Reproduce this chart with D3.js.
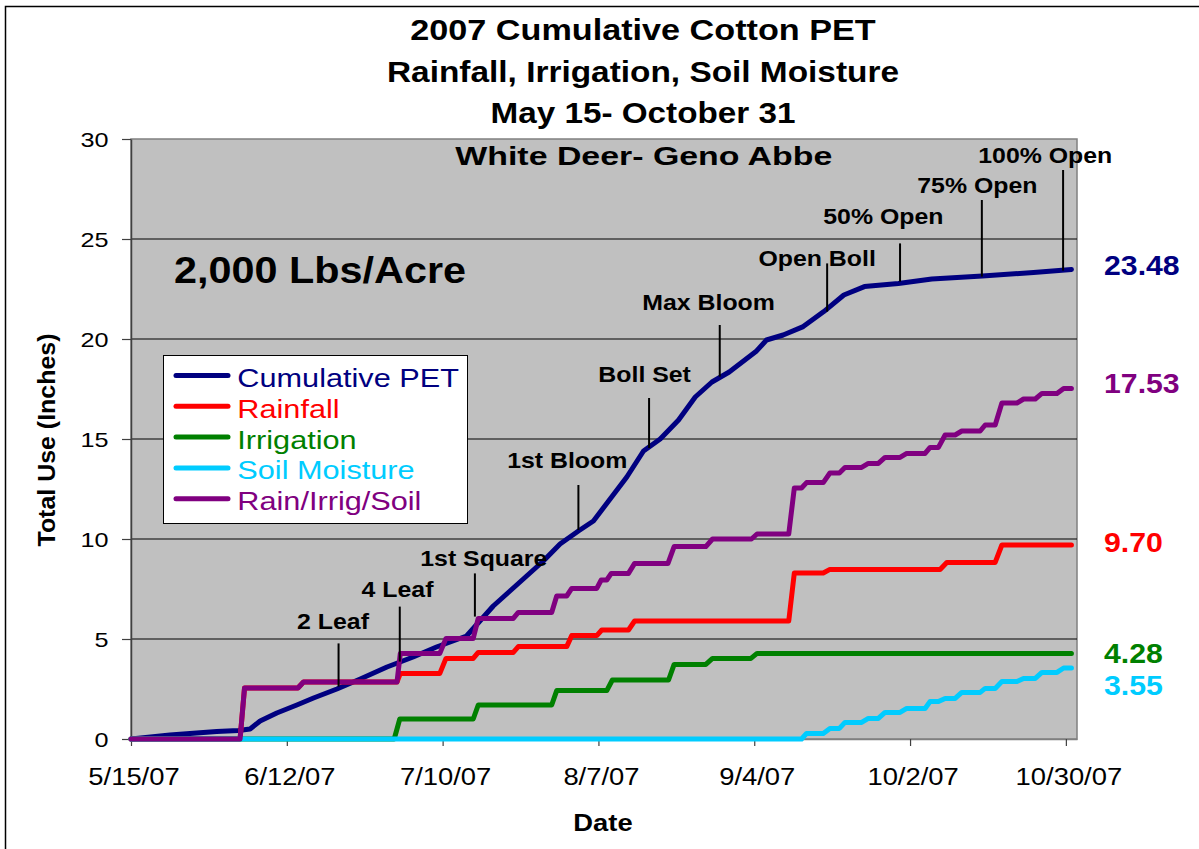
<!DOCTYPE html>
<html>
<head>
<meta charset="utf-8">
<script src="https://cdn.jsdelivr.net/npm/d3@7"></script>
<style>
html,body{margin:0;padding:0;background:#fff;}
svg{display:block;}
</style>
</head>
<body>
<svg id="chart" width="1199" height="849"></svg>
<script>
// ---------------- DATA (day offsets from 5/15/2007, inches) ----------------
const startDate = new Date(2007, 4, 15);
const tickDayOffsets = [0, 28, 56, 84, 112, 140, 168];
const yTickValues = [0, 5, 10, 15, 20, 25, 30];

const seriesNames = ["Cumulative PET", "Rainfall", "Irrigation", "Soil Moisture", "Rain/Irrig/Soil"];
const seriesColors = ["#000080", "#FF0000", "#008000", "#00CCFF", "#800080"];

const petPoints = [[0,0],[7,0.2],[11.8,0.3],[15.4,0.38],[19.3,0.42],[21.4,0.5],[23.2,0.9],[26.2,1.3],[29.8,1.7],[32.8,2.05],[37,2.5],[41.2,3.0],[46,3.6],[50.7,4.1],[54.9,4.6],[60.3,5.15],[62.7,5.9],[65.1,6.65],[68.1,7.4],[71.1,8.15],[74.1,8.9],[77.1,9.75],[80.4,10.4],[83.1,10.9],[86.1,12.0],[89.1,13.1],[92.1,14.4],[95.1,15.0],[98.4,15.95],[101.4,17.1],[104.4,17.85],[107.5,18.35],[112.3,19.37],[114.2,19.95],[117.2,20.2],[120.8,20.62],[124.5,21.37],[128.1,22.2],[131.8,22.62],[137.9,22.78],[143.9,23.0],[153,23.15],[162.2,23.33],[169,23.48]];

const rainPoints = [[0,0],[19.6,0],[20.4,2.55],[30,2.55],[31,2.85],[47.8,2.85],[48.4,3.28],[55.5,3.28],[56.6,4.03],[61.5,4.03],[62.4,4.33],[68.7,4.33],[69.6,4.62],[78.3,4.62],[79.2,5.17],[83.7,5.17],[84.6,5.45],[89.4,5.45],[90.5,5.9],[118.2,5.9],[119.2,8.3],[124.4,8.3],[125.6,8.48],[145.4,8.48],[146.6,8.83],[155.3,8.83],[156.5,9.7],[169,9.7]];

const irrigationPoints = [[0,0],[47.3,0],[48.3,1.0],[61.5,1.0],[62.4,1.7],[75.6,1.7],[76.5,2.42],[85.5,2.42],[86.5,2.95],[96.6,2.95],[97.6,3.73],[103.3,3.73],[104.5,4.03],[111.4,4.03],[112.5,4.28],[169,4.28]];

const soilPoints = [[0,0],[120.5,0],[121.4,0.28],[124.4,0.28],[125.6,0.53],[127.3,0.53],[128.3,0.83],[131.3,0.83],[132.5,1.03],[134.3,1.03],[135.5,1.33],[138.2,1.33],[139.4,1.53],[142.7,1.53],[143.6,1.87],[145.1,1.87],[146.3,2.03],[148.1,2.03],[149.3,2.33],[152.6,2.33],[153.5,2.53],[155.3,2.53],[156.5,2.87],[159.2,2.87],[160.4,3.03],[162.5,3.03],[163.7,3.33],[166.4,3.33],[167.6,3.55],[169,3.55]];

const totalPoints = [[0,0],[19.6,0],[20.4,2.55],[30,2.55],[31,2.85],[47.8,2.85],[48.4,4.28],[55.5,4.28],[56.6,5.03],[61.5,5.03],[62.4,6.03],[68.7,6.03],[69.6,6.33],[75.6,6.33],[76.5,7.15],[78.3,7.15],[79.2,7.53],[83.7,7.53],[84.5,7.95],[85.5,7.95],[86.3,8.28],[89.4,8.28],[90.5,8.78],[96.5,8.78],[97.6,9.62],[103.3,9.62],[104.5,10.0],[111.5,10.0],[112.5,10.25],[118.2,10.25],[119.2,12.55],[120.5,12.55],[121.4,12.82],[124.4,12.82],[125.6,13.3],[127.3,13.3],[128.3,13.58],[131.3,13.58],[132.5,13.78],[134.3,13.78],[135.5,14.08],[138.2,14.08],[139.4,14.28],[142.7,14.28],[143.6,14.58],[145.1,14.58],[146.3,15.2],[148.1,15.2],[149.3,15.4],[152.6,15.4],[153.5,15.7],[155.3,15.7],[156.5,16.8],[159.2,16.8],[160.4,17.0],[162.5,17.0],[163.7,17.28],[166.4,17.28],[167.6,17.53],[169,17.53]];

const finalLabels = ["23.48", "17.53", "9.70", "4.28", "3.55"];
const finalValues = [23.48, 17.53, 9.70, 4.28, 3.55];
const finalColors = ["#000080", "#800080", "#FF0000", "#008000", "#00CCFF"];

const stageNames = ["2 Leaf", "4 Leaf", "1st Square", "1st Bloom", "Boll Set", "Max Bloom", "Open Boll", "50% Open", "75% Open", "100% Open"];
const stageDays = [37.3, 48.3, 61.8, 80.4, 93.1, 105.8, 125.1, 138.2, 152.9, 167.5];
const stageTop = [4.78, 6.62, 8.28, 12.7, 17.05, 20.7, 23.78, 24.78, 26.95, 28.45];
const stageBottom = [2.62, 3.87, 6.12, 10.45, 14.55, 18.12, 21.37, 22.87, 23.12, 23.42];
const stageLabelDays = [36.3, 47.9, 63.4, 78.4, 92.3, 103.8, 123.3, 135.2, 152.1, 164.3];
const stageLabelValues = [5.5, 7.1, 8.67, 13.57, 17.87, 21.45, 23.65, 25.75, 27.28, 28.8];

const titleLines = ["2007 Cumulative Cotton PET", "Rainfall, Irrigation, Soil Moisture", "May 15- October 31"];
const subTitle = "White Deer- Geno Abbe";
const yieldText = "2,000 Lbs/Acre";

// ---------------- DRAWING ----------------
const FONT = "'Liberation Sans', Arial, Helvetica, sans-serif";
const svg = d3.select("#chart");
const dayToDate = d => new Date(startDate.getTime() + d * 86400000);

const plot = {left: 131, right: 1077, top: 139, bottom: 739};
const x = d3.scaleTime().domain([startDate, d3.timeDay.offset(startDate, 170)]).range([plot.left, plot.right]);
const y = d3.scaleLinear().domain([0, 30]).range([plot.bottom, plot.top]);

function txt(parent, str, o) {
  const t = parent.append("text").text(str)
    .attr("font-family", FONT)
    .attr("font-size", o.size)
    .attr("font-weight", o.bold ? "bold" : "normal")
    .attr("fill", o.fill || "#000")
    .attr("text-anchor", "start")
    .attr("x", 0).attr("y", o.y);
  const nat = t.node().getComputedTextLength();
  const w = o.width || nat * (o.k || 1);
  t.attr("textLength", w).attr("lengthAdjust", "spacingAndGlyphs");
  const left = o.anchor === "middle" ? o.x - w / 2 : (o.anchor === "end" ? o.x - w : o.x);
  t.attr("x", left);
  if (o.dy) t.attr("dy", o.dy);
  return t;
}

// outer border
svg.append("rect").attr("x", 5.5).attr("y", 6.5).attr("width", 1300).attr("height", 900)
  .attr("fill", "none").attr("stroke", "#000").attr("stroke-width", 1.5);

// plot area
svg.append("rect").attr("x", plot.left).attr("y", plot.top)
  .attr("width", plot.right - plot.left).attr("height", plot.bottom - plot.top)
  .attr("fill", "#C0C0C0").attr("stroke", "#808080").attr("stroke-width", 1.5);

// gridlines
svg.append("g").selectAll("line").data(yTickValues.filter(v => v > 0 && v < 30)).join("line")
  .attr("x1", plot.left).attr("x2", plot.right)
  .attr("y1", d => y(d)).attr("y2", d => y(d))
  .attr("stroke", "#000").attr("stroke-width", 1);

// axes
const xAxis = svg.append("g").attr("transform", `translate(0,${plot.bottom})`)
  .call(d3.axisBottom(x).tickValues(tickDayOffsets.map(dayToDate))
    .tickFormat(d3.timeFormat("%-m/%-d/%y")).tickSize(7).tickSizeOuter(0));
xAxis.select(".domain").attr("stroke", "#808080").attr("stroke-width", 1.5);
xAxis.selectAll(".tick line").attr("stroke", "#404040").attr("stroke-width", 1.2);
xAxis.selectAll(".tick").each(function() {
  const g = d3.select(this);
  const s = g.select("text").text();
  g.select("text").remove();
  txt(g, s, {x: 2.5, y: 46, anchor: "middle", size: 23, k: 1.19});
});

const yAxis = svg.append("g").attr("transform", `translate(${plot.left},0)`)
  .call(d3.axisLeft(y).tickValues(yTickValues).tickSize(9).tickSizeOuter(0));
yAxis.select(".domain").attr("stroke", "#404040").attr("stroke-width", 1.5);
yAxis.selectAll(".tick line").attr("stroke", "#404040").attr("stroke-width", 1.2);
yAxis.selectAll(".tick").each(function() {
  const g = d3.select(this);
  const s = g.select("text").text();
  g.select("text").remove();
  txt(g, s, {x: -22.5, y: 0, anchor: "end", size: 21, k: 1.2, dy: "0.36em"});
});

// axis titles
txt(svg, "Date", {x: 603, y: 830.7, anchor: "middle", size: 23, bold: true, width: 59.3});
const yl = svg.append("g").attr("transform", "translate(55,440) rotate(-90)");
txt(yl, "Total Use (Inches)", {x: 0, y: 0, anchor: "middle", size: 24, bold: true, width: 213});

// series lines
const line = d3.line().x(d => x(dayToDate(d[0]))).y(d => y(d[1]));
const allSeries = [petPoints, rainPoints, irrigationPoints, soilPoints, totalPoints];
svg.append("g").selectAll("path").data(allSeries).join("path")
  .attr("d", line)
  .attr("fill", "none")
  .attr("stroke", (d, i) => seriesColors[i])
  .attr("stroke-width", 5)
  .attr("stroke-linejoin", "round")
  .attr("stroke-linecap", "round");

// growth stage markers
const ann = svg.append("g");
stageNames.forEach((name, i) => {
  const xv = x(dayToDate(stageDays[i]));
  ann.append("line").attr("x1", xv).attr("x2", xv)
    .attr("y1", y(stageTop[i])).attr("y2", y(stageBottom[i]))
    .attr("stroke", "#000").attr("stroke-width", 2);
  txt(ann, name, {x: x(dayToDate(stageLabelDays[i])), y: y(stageLabelValues[i]),
    anchor: "middle", size: 22, bold: true, k: 1.13});
});

// final value labels
const finalDy = [6, 5, 7, 10, 27];
finalLabels.forEach((s, i) => {
  txt(svg, s, {x: 1104, y: y(finalValues[i]) + finalDy[i], anchor: "start", size: 27, bold: true,
    fill: finalColors[i], k: 1.12});
});

// titles
const titleY = [40, 81.7, 123.3];
const titleW = [465.5, 512, 305];
titleLines.forEach((s, i) => {
  txt(svg, s, {x: 643, y: titleY[i], anchor: "middle", size: 29, bold: true, width: titleW[i]});
});
txt(svg, subTitle, {x: 643.8, y: 165, anchor: "middle", size: 26, bold: true, width: 377});
txt(svg, yieldText, {x: 174, y: 283, anchor: "start", size: 36, bold: true, width: 292});

// legend
const lg = svg.append("g");
lg.append("rect").attr("x", 163.5).attr("y", 355.5).attr("width", 304).attr("height", 168)
  .attr("fill", "#fff").attr("stroke", "#000").attr("stroke-width", 1);
seriesNames.forEach((name, i) => {
  const by = 387 + i * 30.8;
  lg.append("line").attr("x1", 176).attr("x2", 228).attr("y1", by - 11.5).attr("y2", by - 11.5)
    .attr("stroke", seriesColors[i]).attr("stroke-width", 5).attr("stroke-linecap", "round");
  txt(lg, name, {x: 237.3, y: by, anchor: "start", size: 26, fill: seriesColors[i], k: 1.18});
});
</script>
</body>
</html>
